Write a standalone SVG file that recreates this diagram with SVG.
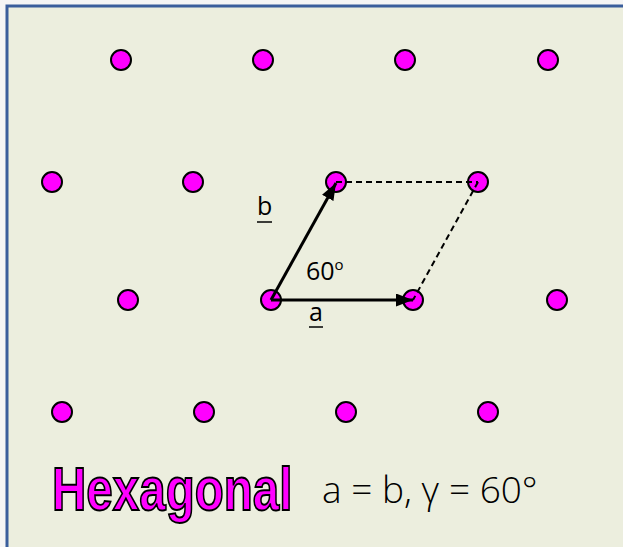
<svg xmlns="http://www.w3.org/2000/svg" width="623" height="547" viewBox="0 0 623 547">
<defs>
<style>
.dot{fill:#FF00FF;stroke:#000;stroke-width:2}
.vec{stroke:#000;stroke-width:3;fill:none}
.dash{stroke:#000;stroke-width:2;stroke-dasharray:6 4;fill:none}
.lbl{font-family:"Open Sans","DejaVu Sans",sans-serif;font-size:25px;fill:#000}
</style>
<marker id="ah" viewBox="0 0 17 13" refX="17" refY="6.5" markerWidth="17" markerHeight="13" markerUnits="userSpaceOnUse" orient="auto">
<path d="M0,0 L17,6.5 L0,13 Z" fill="#000"/>
</marker>
</defs>
<rect x="0" y="0" width="623" height="547" fill="#F5F5F5"/>
<rect x="7" y="6" width="640" height="560" fill="#ECEEDE" stroke="#3A5E9C" stroke-width="3"/>
<g id="lattice">
<g id="r1">
<circle class="dot" cx="121" cy="60" r="10"/>
<circle class="dot" cx="263" cy="60" r="10"/>
<circle class="dot" cx="405" cy="60" r="10"/>
<circle class="dot" cx="548" cy="60" r="10"/>
</g>
<g id="r2">
<circle class="dot" cx="52" cy="182" r="10"/>
<circle class="dot" cx="193" cy="182" r="10"/>
<circle class="dot" cx="336" cy="182" r="10"/>
<circle class="dot" cx="478" cy="182" r="10"/>
</g>
<g id="r3">
<circle class="dot" cx="128" cy="300" r="10"/>
<circle class="dot" cx="271" cy="300" r="10"/>
<circle class="dot" cx="413" cy="300" r="10"/>
<circle class="dot" cx="557" cy="300" r="10"/>
</g>
<g id="r4">
<circle class="dot" cx="62" cy="412" r="10"/>
<circle class="dot" cx="204" cy="412" r="10"/>
<circle class="dot" cx="346" cy="412" r="10"/>
<circle class="dot" cx="488" cy="412" r="10"/>
</g>
</g>
<g id="connectors">
<line class="dash" x1="336" y1="182" x2="478" y2="182"/>
<line class="dash" x1="478" y1="182" x2="413" y2="300"/>
<line class="vec" x1="271" y1="300" x2="413" y2="300" marker-end="url(#ah)"/>
<line class="vec" x1="271" y1="300" x2="336" y2="183" marker-end="url(#ah)"/>
</g>
<g id="labels">
<text class="lbl" x="257" y="215">b</text>
<line x1="257" y1="222" x2="272" y2="222" stroke="#000" stroke-width="1.5"/>
<text class="lbl" x="309" y="321">a</text>
<line x1="309" y1="327" x2="323" y2="327" stroke="#000" stroke-width="1.5"/>
<text class="lbl" x="306" y="280">60<tspan font-size="15" dy="-10">o</tspan></text>
</g>
<g id="title">
<text transform="translate(52,510) scale(0.767,1)" x="0" y="0" font-family="'Liberation Sans',Arial,sans-serif" font-weight="bold" font-size="62" fill="#FF00FF" stroke="#000" stroke-width="2">Hexagonal</text>
<text x="322" y="503" font-family="'Open Sans','DejaVu Sans',sans-serif" font-weight="300" font-size="37" fill="#000">a = b, γ = 60°</text>
</g>
</svg>
